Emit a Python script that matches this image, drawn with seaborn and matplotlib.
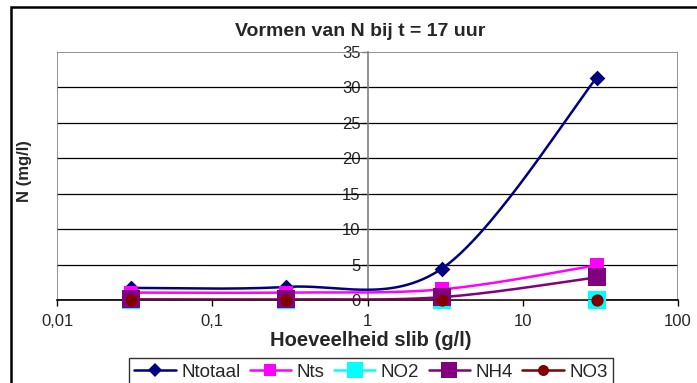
import numpy as np
import pandas as pd
import matplotlib
matplotlib.use("Agg")
import matplotlib.pyplot as plt
from matplotlib.lines import Line2D
from matplotlib.patches import Rectangle
from matplotlib.ticker import FixedLocator, FixedFormatter, NullLocator
import seaborn as sns

# Amount of sludge (g/l) and nitrogen forms (mg/l) after 17 hours
slib = [0.03, 0.3, 3, 30]
ntotaal = [1.7, 1.85, 4.4, 31.4]
nts = [1.05, 1.05, 1.5, 4.9]
no2 = [0.0, 0.0, 0.0, 0.0]
nh4 = [0.1, 0.1, 0.4, 3.2]
no3 = [0.0, 0.0, 0.0, 0.0]

series_names = ["Ntotaal", "Nts", "NO2", "NH4", "NO3"]
x_tick_values = [0.01, 0.1, 1, 10, 100]
x_tick_labels = ["0,01", "0,1", "1", "10", "100"]
y_ticks = [0, 5, 10, 15, 20, 25, 30, 35]

colors = {"Ntotaal": "#000080", "Nts": "#FF00FF", "NO2": "#00FFFF",
          "NH4": "#800080", "NO3": "#800000"}
markers = {"Ntotaal": "D", "Nts": "s", "NO2": "s", "NH4": "s", "NO3": "o"}
msizes = {"Ntotaal": 8.0, "Nts": 9.5, "NO2": 13.0, "NH4": 13.0, "NO3": 8.8}


def smooth_curve(xs, ys, n=60):
    """Catmull-Rom style Bezier smoothing in (log10 x, y) space."""
    lx = np.log10(np.asarray(xs, float))
    y = np.asarray(ys, float)
    pts = np.column_stack([lx, y])
    ext = np.vstack([pts[0], pts, pts[-1]])
    out = []
    t = np.linspace(0, 1, n)[:, None]
    for i in range(len(pts) - 1):
        p0, p3 = ext[i + 1], ext[i + 2]
        c1 = p0 + (ext[i + 2] - ext[i]) / 6.0
        c2 = p3 - (ext[i + 3] - ext[i + 1]) / 6.0
        seg = ((1 - t) ** 3) * p0 + 3 * ((1 - t) ** 2) * t * c1 \
            + 3 * (1 - t) * t ** 2 * c2 + t ** 3 * p3
        out.append(seg if i == 0 else seg[1:])
    seg = np.vstack(out)
    return 10 ** seg[:, 0], seg[:, 1]


sns.set_style("white")
plt.rcParams["font.family"] = ["Liberation Sans", "DejaVu Sans"]

fig = plt.figure(figsize=(6.97, 3.83), dpi=100)
ax = fig.add_axes([57 / 697, 1 - 300 / 383, (678 - 57) / 697, (300 - 52) / 383])

values = {"Ntotaal": ntotaal, "Nts": nts, "NO2": no2, "NH4": nh4, "NO3": no3}
for k, name in enumerate(series_names):
    cx, cy = smooth_curve(slib, values[name])
    curve = pd.DataFrame({"x": cx, "y": cy})
    sns.lineplot(data=curve, x="x", y="y", ax=ax, color=colors[name],
                 linewidth=1.8, sort=False, estimator=None, zorder=3 + k)
    pts = pd.DataFrame({"x": slib, "y": values[name]})
    sns.scatterplot(data=pts, x="x", y="y", ax=ax, color=colors[name],
                    marker=markers[name], s=msizes[name] ** 2, linewidth=0,
                    zorder=3.5 + k, clip_on=False)

ax.set_xscale("log")
ax.set_xlim(0.01, 100)
ax.set_ylim(0, 35)
ax.xaxis.set_major_locator(FixedLocator(x_tick_values))
ax.xaxis.set_major_formatter(FixedFormatter(x_tick_labels))
ax.xaxis.set_minor_locator(NullLocator())
ax.set_yticks(y_ticks)
ax.set_yticklabels([str(v) for v in y_ticks])

# horizontal gridlines
for v in y_ticks[1:-1]:
    ax.axhline(v, color="black", linewidth=0.9, zorder=1)

# grey frame around plot area
ax.add_patch(Rectangle((0, 0), 1, 1, transform=ax.transAxes, fill=False,
                       edgecolor="#808080", linewidth=1.2, zorder=2))

for s in ["top", "right"]:
    ax.spines[s].set_visible(False)
ax.spines["left"].set_position(("data", 1))
ax.spines["left"].set_color("#808080")
ax.spines["left"].set_linewidth(1.2)
ax.spines["left"].set_zorder(2.5)
ax.spines["bottom"].set_color("black")
ax.spines["bottom"].set_linewidth(1.2)
ax.spines["bottom"].set_zorder(2.5)

ax.tick_params(axis="y", direction="out", length=4, width=1, color="#808080",
               pad=1, labelsize=12, left=True)
ax.tick_params(axis="x", direction="out", length=4, width=1, color="black",
               pad=6, labelsize=12, bottom=True)

ax.set_xlabel("")
ax.set_ylabel("")
ax.set_facecolor("white")

fig.text(371 / 697, 1 - 341 / 383, "Hoeveelheid slib (g/l)", ha="center",
         va="center", fontsize=14.5, fontweight="bold")
fig.text(24 / 697, 1 - 171 / 383, "N (mg/l)", ha="center", va="center",
         rotation=90, fontsize=12, fontweight="bold")
fig.text(360 / 697, 1 - 31 / 383, "Vormen van N bij t = 17 uur", ha="center",
         va="center", fontsize=14, fontweight="bold")

# outer chart border
fig.patches.append(Rectangle((11 / 697, -0.2), 1.2, 1.2 - 7 / 383,
                             transform=fig.transFigure, fill=False,
                             edgecolor="black", linewidth=1.8))

handles = [Line2D([0], [0], color=colors[n], marker=markers[n],
                  markersize=msizes[n] * 0.9, linewidth=1.8, markeredgewidth=0)
           for n in series_names]
leg = fig.legend(handles, series_names, loc="upper center",
                 bbox_to_anchor=(371 / 697, 1 - 358 / 383), ncol=5,
                 fontsize=13.5, frameon=True, fancybox=False, borderaxespad=0,
                 handlelength=2.2, handletextpad=0.3, columnspacing=0.5,
                 borderpad=0.3)
leg.get_frame().set_edgecolor("black")
leg.get_frame().set_linewidth(1.0)

fig.savefig("out.png", dpi=100)
